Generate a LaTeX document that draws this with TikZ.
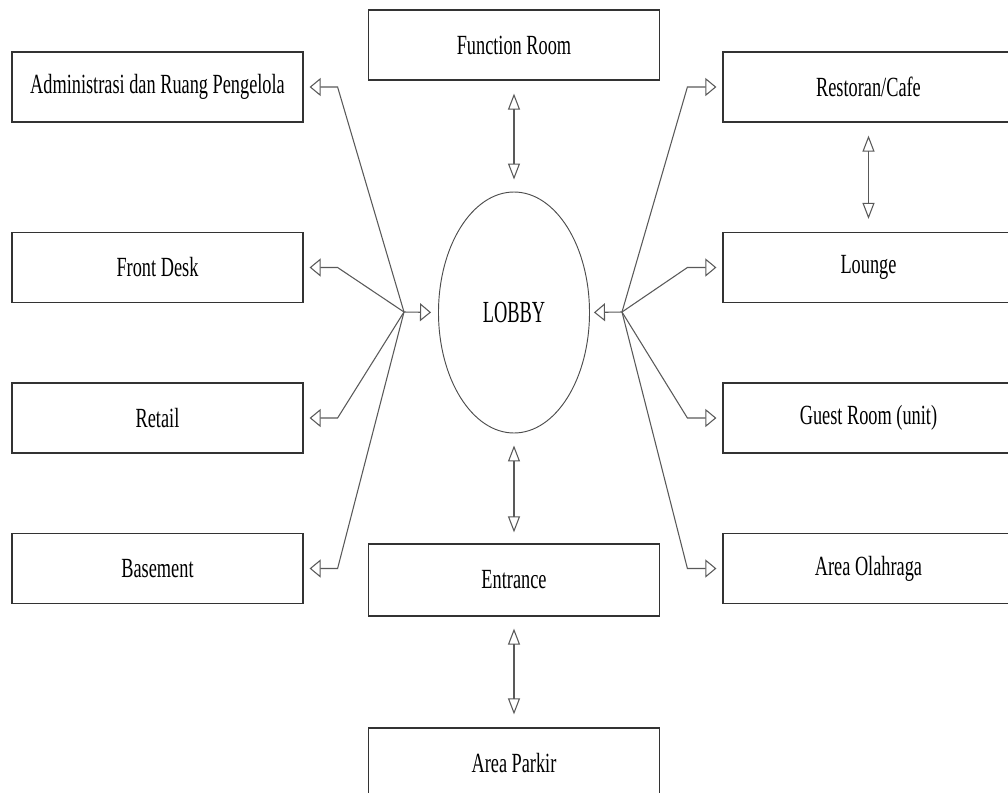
\documentclass[tikz,border=0pt]{standalone}
\usepackage{fontspec}
\setmainfont[FakeStretch=0.66]{Liberation Serif}
\newfontfamily\lobbyfont[FakeStretch=0.6]{Liberation Serif}
\usetikzlibrary{arrows.meta,shapes.geometric,calc}
\begin{document}
\begin{tikzpicture}[x=0.75pt,y=-0.75pt,
  box/.style={draw=black!80, line width=0.9pt, minimum width=218.25pt, minimum height=52.5pt, inner sep=0pt, font=\fontsize{20.8pt}{24pt}\selectfont},
  link/.style={draw=black!65, line width=0.8pt},
  harr/.style={link, -{Triangle[open, length=8.25pt, width=13.5pt]}},
  varr/.style={link, {Triangle[open, length=12pt, width=9pt]}-{Triangle[open, length=12pt, width=9pt]}},
]
\useasboundingbox (0,0) rectangle (1008,793);
\clip (0,0) rectangle (1008,793);

% left column
\node[box] (admin) at (157.5,87) {Administrasi dan Ruang Pengelola};
\node[box] (front) at (157.5,267.5) {Front Desk};
\node[box] (retail) at (157.5,418) {Retail};
\node[box] (base) at (157.5,568.5) {Basement};

% right column
\node[box] (resto) at (868.5,87) {Restoran/Cafe};
\node[box] (lounge) at (868.5,267.5) {Lounge};
\node[box] (guest) at (868.5,418) {Guest Room (unit)};
\node[box] (olah) at (868.5,568.5) {Area Olahraga};

% centre column
\node[box] (func) at (514,45) {Function Room};
\node[box, minimum height=54pt] (entr) at (514,580) {Entrance};
\node[box] (park) at (514,763) {Area Parkir};

\node[draw=black!70, ellipse, line width=0.7pt, minimum width=113.25pt, minimum height=180.75pt, inner sep=0pt] (lobby) at (514,312.5) {\lobbyfont\fontsize{23pt}{26pt}\selectfont LOBBY};

\coordinate (hubL) at (404,312);
\coordinate (hubR) at (622,312);

% left connectors
\draw[harr, shorten >=4.5pt] (hubL) -- ([xshift=25.5pt]admin.east) -- (admin.east);
\draw[harr, shorten >=4.5pt] (hubL) -- ([xshift=25.5pt]front.east) -- (front.east);
\draw[harr, shorten >=4.5pt] (hubL) -- ([xshift=25.5pt]retail.east) -- (retail.east);
\draw[harr, shorten >=4.5pt] (hubL) -- ([xshift=25.5pt]base.east) -- (base.east);
\draw[harr, shorten >=5.25pt] (hubL) -- (lobby.west);

% right connectors
\draw[harr, shorten >=4.5pt] (hubR) -- ([xshift=-26.25pt]resto.west) -- (resto.west);
\draw[harr, shorten >=4.5pt] (hubR) -- ([xshift=-26.25pt]lounge.west) -- (lounge.west);
\draw[harr, shorten >=4.5pt] (hubR) -- ([xshift=-26.25pt]guest.west) -- (guest.west);
\draw[harr, shorten >=4.5pt] (hubR) -- ([xshift=-26.25pt]olah.west) -- (olah.west);
\draw[harr, shorten >=3pt] (hubR) -- (lobby.east);

% vertical double arrows
\draw[varr, shorten <=9.75pt, shorten >=9pt] (func.south) -- (lobby.north);
\draw[varr, shorten <=9pt, shorten >=8.25pt] (lobby.south) -- (entr.north);
\draw[varr, shorten <=9pt, shorten >=9.75pt] (entr.south) -- (park.north);
\draw[varr, shorten <=9.75pt, shorten >=9.75pt] (resto.south) -- (lounge.north);
\end{tikzpicture}
\end{document}
